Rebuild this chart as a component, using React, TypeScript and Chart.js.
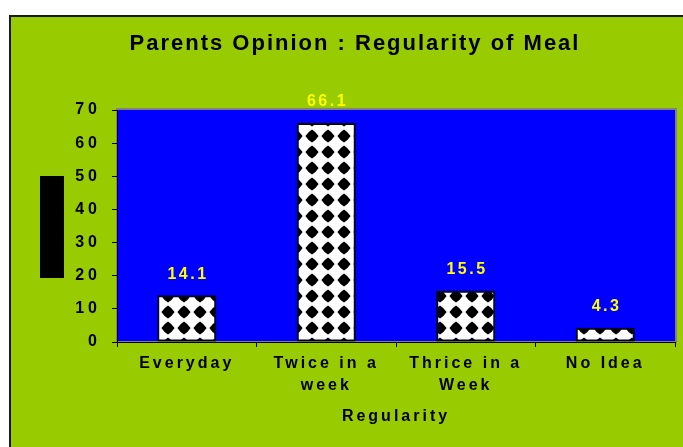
import React, { useEffect, useRef } from 'react';
import { Chart, registerables } from 'chart.js';

Chart.register(...registerables);

// ---- data ----
const categories: (string | string[])[] = ['Everyday', ['Twice in a', 'week'], ['Thrice in a', 'Week'], 'No Idea'];
const values: number[] = [14.1, 66.1, 15.5, 4.3];
const yMin = 0;
const yMax = 70;
const yStep = 10;
const chartTitle = 'Parents Opinion : Regularity of Meal';
const xAxisTitle = 'Regularity';

const FONT = "'Liberation Sans', Arial, Helvetica, sans-serif";
const GREEN = '#99CC00';
const BLUE = '#0000FF';

function makePattern(): CanvasPattern | string {
  const c = document.createElement('canvas');
  const s = 16;
  c.width = s;
  c.height = s;
  const g = c.getContext('2d');
  if (!g) return '#fff';
  g.fillStyle = '#fff';
  g.fillRect(0, 0, s, s);
  g.fillStyle = '#000';
  const h = 6.6;
  const k = 0.62 * h;
  const m = s / 2;
  g.beginPath();
  g.moveTo(m, m - h);
  g.quadraticCurveTo(m + k, m - k, m + h, m);
  g.quadraticCurveTo(m + k, m + k, m, m + h);
  g.quadraticCurveTo(m - k, m + k, m - h, m);
  g.quadraticCurveTo(m - k, m - k, m, m - h);
  g.closePath();
  g.fill();
  const p = g.createPattern(c, 'repeat');
  return p || '#fff';
}

const decorPlugin = {
  id: 'decor',
  afterLayout(chart: any) {
    const y = chart.scales.y;
    if (y && !y._lsPatched) {
      const orig = y.drawLabels;
      y.drawLabels = function (area: any) {
        const c = this.ctx;
        const prev = c.letterSpacing;
        c.letterSpacing = '4px';
        orig.call(this, area);
        c.letterSpacing = prev;
      };
      y._lsPatched = true;
    }
  },
  beforeDraw(chart: any) {
    const { ctx, width, height, chartArea } = chart;
    ctx.save();
    ctx.fillStyle = '#fff';
    ctx.fillRect(0, 0, width, height);
    ctx.fillStyle = GREEN;
    ctx.fillRect(9, 15, width - 9, height - 15);
    ctx.fillStyle = '#1a1a1a';
    ctx.fillRect(9, 15, 2, height - 15);
    ctx.fillRect(9, 15, width - 9, 2);
    ctx.fillStyle = BLUE;
    ctx.fillRect(chartArea.left, chartArea.top, chartArea.right - chartArea.left, chartArea.bottom - chartArea.top);
    ctx.strokeStyle = '#808080';
    ctx.lineWidth = 2;
    ctx.strokeRect(chartArea.left, chartArea.top - 1, chartArea.right - chartArea.left + 1, chartArea.bottom - chartArea.top + 1);
    ctx.fillStyle = '#000';
    const mid = (chartArea.top + chartArea.bottom) / 2;
    ctx.fillRect(chartArea.left - 77, mid - 50, 24, 102);
    ctx.restore();
    ctx.letterSpacing = '3px';
  },
  afterDatasetsDraw(chart: any) {
    const { ctx } = chart;
    const meta = chart.getDatasetMeta(0);
    ctx.save();
    ctx.letterSpacing = '2.5px';
    ctx.font = `bold 16px ${FONT}`;
    ctx.fillStyle = '#FFFF00';
    ctx.textAlign = 'center';
    ctx.textBaseline = 'middle';
    meta.data.forEach((el: any, i: number) => {
      const { x, y } = el.getProps(['x', 'y'], true);
      ctx.fillText(String(values[i]), x + 1.25, y - 21);
    });
    ctx.restore();
  },
  afterDraw(chart: any) {
    const { ctx } = chart;
    ctx.save();
    ctx.letterSpacing = '2px';
    ctx.font = `bold 22px ${FONT}`;
    ctx.fillStyle = '#000';
    ctx.textAlign = 'center';
    ctx.textBaseline = 'alphabetic';
    ctx.fillText(chartTitle, 355, 50);
    ctx.restore();
  },
};

export default function App() {
  const ref = useRef<HTMLCanvasElement>(null);
  useEffect(() => {
    if (!ref.current) return;
    const chart = new Chart(ref.current, {
      type: 'bar',
      data: {
        labels: categories,
        datasets: [
          {
            data: values,
            backgroundColor: makePattern() as any,
            borderColor: '#000',
            borderWidth: 2,
            borderSkipped: false,
            categoryPercentage: 1,
            barPercentage: 0.423,
          },
        ],
      },
      options: {
        responsive: false,
        animation: false,
        layout: { padding: { top: 110, left: 0, right: 8, bottom: 0 } },
        plugins: {
          legend: { display: false },
          title: { display: false },
          tooltip: { enabled: false },
        },
        scales: {
          x: {
            afterFit(scale: any) {
              scale.height = 105;
            },
            grid: { display: true, drawOnChartArea: false, drawTicks: true, tickLength: 5, offset: true, color: '#000', lineWidth: 1 },
            border: { display: true, color: '#000', width: 1 },
            ticks: {
              color: '#000',
              font: { family: FONT, size: 16, weight: 'bold', lineHeight: 1.4 },
              padding: 5,
              maxRotation: 0,
              autoSkip: false,
            },
            title: {
              display: true,
              text: xAxisTitle,
              color: '#000',
              font: { family: FONT, size: 16, weight: 'bold' },
              padding: { top: 0, bottom: 21 },
            },
          },
          y: {
            min: yMin,
            max: yMax,
            afterFit(scale: any) {
              scale.width = 117;
            },
            grid: { display: true, drawOnChartArea: false, drawTicks: true, tickLength: 5, color: '#000', lineWidth: 1 },
            border: { display: true, color: '#000', width: 1 },
            ticks: {
              stepSize: yStep,
              color: '#000',
              font: { family: FONT, size: 16, weight: 'bold' },
              padding: 11,
            },
          },
        },
      },
      plugins: [decorPlugin],
    });
    return () => chart.destroy();
  }, []);
  return (
    <div style={{ position: 'fixed', left: 0, top: 0, width: 683, height: 447 }}>
      <canvas ref={ref} width={683} height={447} style={{ display: 'block', width: 683, height: 447 }} />
    </div>
  );
}
